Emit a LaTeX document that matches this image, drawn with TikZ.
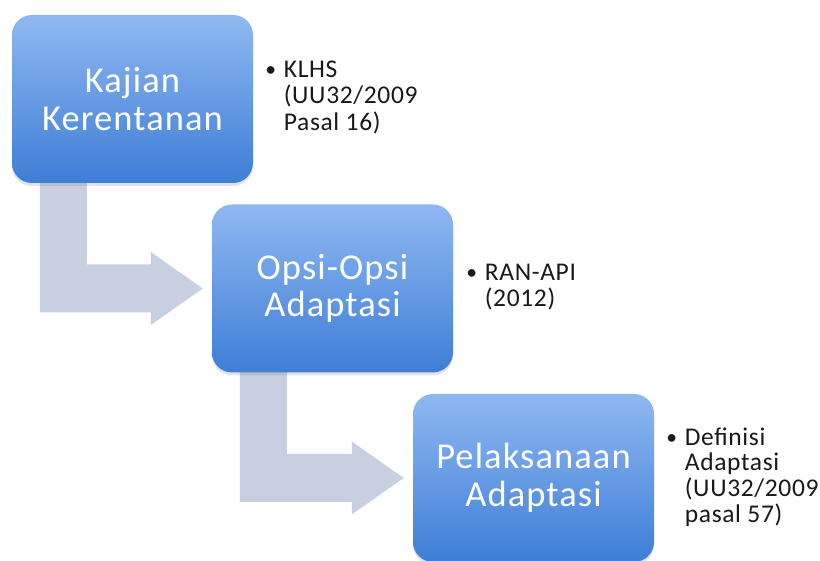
\documentclass[tikz,border=0pt]{standalone}
\usepackage{fontspec}
\setmainfont{Carlito}
\newfontfamily\boxfont[LetterSpace=3]{Carlito}
\newfontfamily\notefont[LetterSpace=2.5]{Carlito}
\usetikzlibrary{calc,shadows}
\pgfdeclarelayer{background}
\pgfsetlayers{background,main}
\definecolor{boxtop}{RGB}{143,184,242}
\definecolor{boxbot}{RGB}{62,126,214}
\definecolor{arrowfill}{RGB}{200,207,224}
\definecolor{txtcol}{RGB}{25,25,25}
\tikzset{
  stepbox/.style={rectangle, rounded corners=20pt, minimum width=241pt, minimum height=168pt,
    top color=boxtop, bottom color=boxbot, draw=none, text=white, align=center,
    font=\boxfont\fontsize{36.5}{37.5}\selectfont,
    drop shadow={opacity=0.22, shadow xshift=0pt, shadow yshift=-3pt}},
  notetext/.style={anchor=west, text=txtcol, inner sep=0pt, font=\notefont\fontsize{25.5}{25}\selectfont},
  bentarrow/.style={fill=arrowfill, draw=none}
}
\newcommand{\bulletnote}[1]{\begin{tabular}{@{}p{18.5pt}@{}l@{}}\raisebox{1pt}{\scalebox{0.85}{\textbullet}} & #1\end{tabular}}
\begin{document}
\begin{tikzpicture}[x=1pt,y=1pt]
\useasboundingbox (0,0) rectangle (820,561);
% boxes
\node[stepbox] (k1) at (132.5,462) {Kajian\\Kerentanan};
\node[stepbox] (o2) at (332.5,272.5) {Opsi-Opsi\\Adaptasi};
\node[stepbox] (p3) at (533.5,83) {Pelaksanaan\\Adaptasi};
% bent arrows from box to box, behind the boxes
\begin{pgfonlayer}{background}
\foreach \a/\b in {k1/o2, o2/p3}{
  \path[bentarrow] let \p1=(\a.south west), \p2=(\b.west) in
    (\x1+28pt,\y1+10pt) -- (\x1+75pt,\y1+10pt) -- (\x1+75pt,\y2+24pt)
    -- (\x2-61pt,\y2+24pt) -- (\x2-61pt,\y2+36.5pt) -- (\x2-9pt,\y2)
    -- (\x2-61pt,\y2-36.5pt) -- (\x2-61pt,\y2-24pt) -- (\x1+28pt,\y2-24pt) -- cycle;
}
\end{pgfonlayer}
% notes
\node[notetext] (n1) at ($(k1.east)+(12pt,0)$) {\bulletnote{KLHS\\ & (UU32/2009\\ & Pasal 16)}};
\node[notetext] (n2) at ($(o2.east)+(13pt,0)$) {\bulletnote{RAN-API\\ & (2012)}};
\node[notetext] (n3) at ($(p3.east)+(12pt,-1pt)$) {\bulletnote{Definisi\\ & Adaptasi\\ & (UU32/2009\\ & pasal 57)}};
\end{tikzpicture}
\end{document}
